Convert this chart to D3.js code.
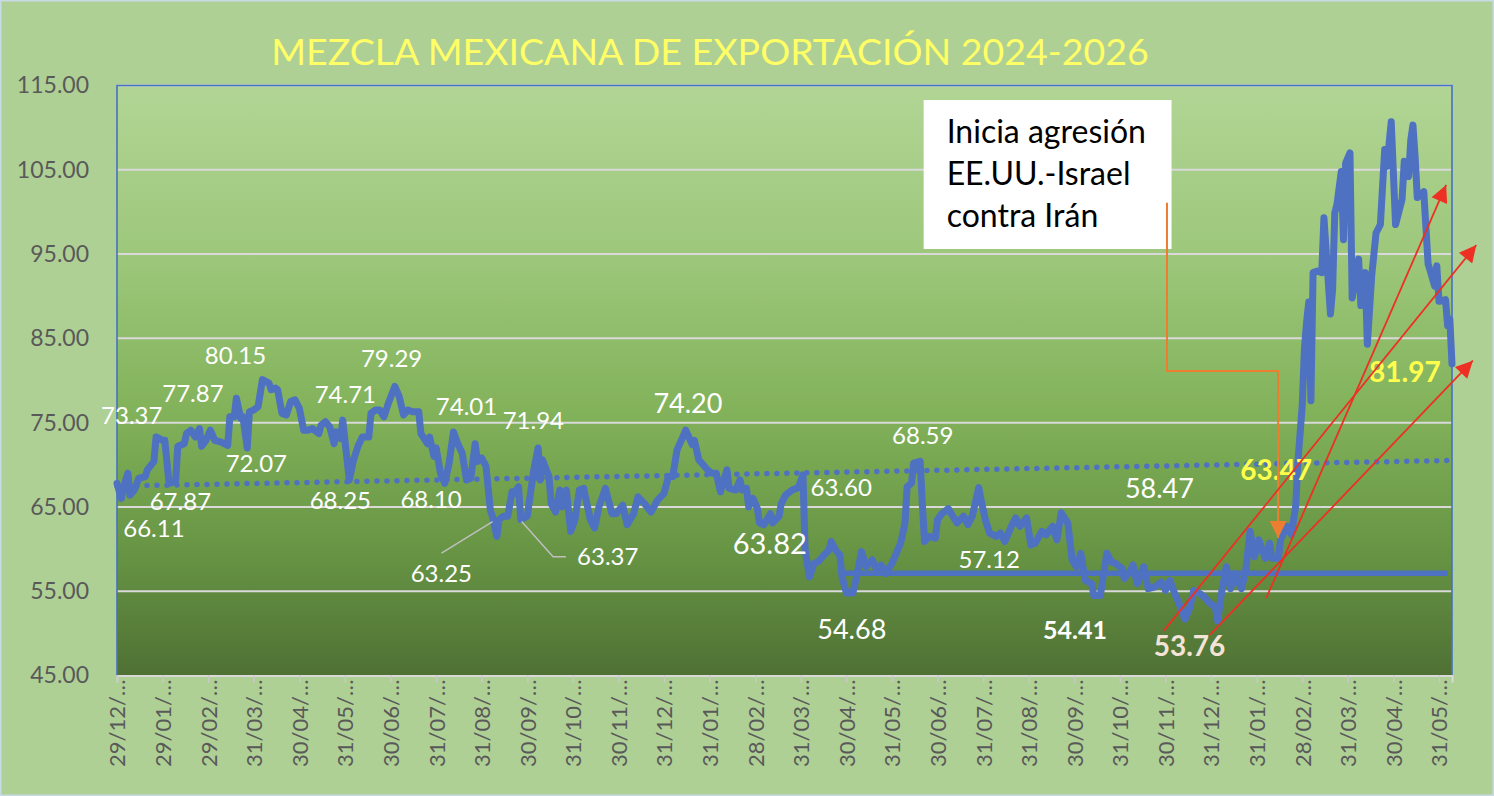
<!DOCTYPE html>
<html>
<head>
<meta charset="utf-8">
<script src="https://cdn.jsdelivr.net/npm/d3@7"></script>
<style>
html, body { margin: 0; padding: 0; background: #afd095; }
svg { display: block; }
text { font-family: Lato, "Open Sans", sans-serif; }
</style>
</head>
<body>
<svg id="chart" width="1494" height="796"></svg>
<script>
// session index (about 21 sessions per month) and price
const mme = [
  [0,67.8],[2,66.0],[4,68.2],[5,69.0],[6,66.4],[8,67.0],[10,68.4],[13,68.6],[14,69.4],[17,70.4],
  [18,73.3],[21,72.9],[22,72.9],[24,67.8],[27,68.0],[28,72.2],[31,72.5],[32,73.7],[34,74.1],[36,73.3],
  [38,74.3],[39,72.2],[41,72.9],[43,74.1],[45,72.9],[48,72.7],[51,72.3],[52,75.7],[54,75.7],[55,77.9],
  [57,75.5],[58,75.7],[60,72.0],[61,76.3],[63,76.5],[65,76.9],[67,80.1],[70,79.7],[71,78.9],[73,79.1],
  [74,78.9],[76,76.1],[78,75.9],[80,77.5],[82,77.7],[84,76.7],[86,74.1],[88,74.1],[90,74.3],[92,73.9],
  [93,73.7],[94,74.7],[96,75.1],[98,74.5],[100,72.5],[101,73.9],[103,73.1],[104,75.3],[105,72.9],[107,68.2],
  [109,70.6],[111,72.2],[113,73.3],[116,73.3],[117,76.1],[119,76.5],[121,76.5],[123,75.7],[125,77.3],[128,79.3],
  [130,78.1],[132,75.9],[134,76.5],[136,76.3],[139,76.3],[140,73.7],[143,72.5],[144,73.3],[146,71.0],[147,72.0],
  [149,69.0],[151,67.8],[153,70.2],[155,73.9],[157,72.5],[159,71.4],[161,68.2],[163,68.4],[165,72.5],[166,70.4],
  [168,70.8],[170,69.8],[172,64.6],[173,63.8],[175,61.5],[176,63.5],[178,63.9],[180,63.9],[182,66.8],[183,66.6],
  [185,67.4],[186,63.5],[189,63.9],[192,69.4],[194,72.0],[195,68.2],[196,70.6],[199,68.6],[200,65.4],[202,64.4],
  [204,67.0],[205,65.0],[207,67.0],[209,62.1],[211,63.5],[213,67.0],[215,67.2],[218,63.5],[220,62.5],[222,65.0],
  [225,67.2],[228,64.2],[230,64.2],[233,65.2],[235,62.9],[238,64.2],[240,66.2],[243,65.4],[246,64.4],[249,65.8],
  [252,66.6],[254,68.6],[256,68.6],[258,71.8],[260,72.9],[262,74.1],[265,72.4],[266,72.9],[268,70.6],[270,70.0],
  [272,69.4],[274,69.0],[276,69.0],[278,66.8],[279,67.8],[281,69.4],[282,67.2],[285,67.0],[287,68.2],[288,67.0],
  [290,67.2],[291,65.0],[293,66.0],[295,64.8],[296,63.1],[298,62.9],[301,64.2],[302,63.1],[305,63.9],[306,65.4],
  [308,66.4],[311,67.0],[313,67.2],[314,67.4],[316,68.8],[317,59.9],[319,56.7],[321,58.3],[323,58.5],[325,59.1],
  [328,59.9],[329,60.9],[331,59.9],[333,59.3],[334,56.7],[336,54.8],[339,54.8],[341,57.1],[343,59.7],[345,57.9],
  [348,58.7],[350,57.5],[352,58.1],[354,57.1],[357,58.3],[359,59.5],[361,60.7],[363,63.1],[364,67.4],[366,67.8],
  [367,70.2],[370,70.4],[371,65.4],[372,60.9],[374,61.5],[377,61.3],[378,63.5],[380,64.2],[383,64.8],[385,63.9],
  [387,63.1],[390,63.9],[392,62.9],[394,63.9],[397,67.3],[398,65.9],[400,63.5],[402,61.9],[405,61.5],[407,61.9],
  [409,60.9],[412,62.7],[414,63.7],[416,62.7],[419,63.7],[421,60.5],[423,60.7],[426,62.1],[428,61.7],[431,62.7],
  [433,61.1],[435,64.3],[438,63.1],[440,58.7],[442,57.9],[444,59.5],[446,56.3],[449,55.9],[450,54.5],[453,54.5],
  [456,59.5],[458,58.5],[460,58.3],[463,57.7],[464,56.5],[467,57.5],[468,58.1],[470,55.9],[473,57.9],[475,55.3],
  [478,55.5],[481,56.1],[483,55.1],[485,56.3],[487,54.9],[489,53.7],[492,51.7],[494,52.9],[496,55.1],[499,54.7],
  [501,54.3],[503,53.7],[506,53.1],[507,51.5],[509,55.1],[511,57.9],[513,55.3],[515,57.1],[518,55.3],[520,57.5],
  [522,62.1],[524,59.1],[526,61.1],[529,58.9],[531,60.7],[532,58.9],[535,58.9],[536,61.1],[539,62.7],[541,61.7],
  [543,65.1],[544,70.3],[546,77.0],[547,83.7],[548,86.9],[549,89.3],[550,77.6],[551,92.8],[553,93.0],[555,92.8],
  [556,99.3],[559,87.9],[560,90.8],[561,99.9],[562,100.9],[564,104.8],[565,96.7],[566,105.8],[568,107.0],[569,89.8],
  [572,94.4],[573,88.9],[575,92.8],[576,84.3],[578,92.4],[580,97.5],[582,98.5],[584,107.4],[585,105.4],[587,110.7],
  [589,98.5],[592,101.5],[593,106.0],[595,104.2],[596,108.5],[597,110.3],[598,106.6],[599,101.7],[602,102.4],[604,93.8],
  [605,93.0],[607,91.2],[608,93.6],[609,89.4],[612,89.6],[613,86.5],[614,87.3],[615,81.97]
];

const avgLine = [[335, 57.12], [613, 57.12]];
const trendLine = [[0, 67.47], [615, 70.52]];

const monthLabels = ["29/12/…","29/01/…","29/02/…","31/03/…","30/04/…","31/05/…","30/06/…","31/07/…",
  "31/08/…","30/09/…","31/10/…","30/11/…","31/12/…","31/01/…","28/02/…","31/03/…","30/04/…","31/05/…",
  "30/06/…","31/07/…","31/08/…","30/09/…","31/10/…","30/11/…","31/12/…","31/01/…","28/02/…","31/03/…",
  "30/04/…","31/05/…"];
const yTicks = [45, 55, 65, 75, 85, 95, 105, 115];

// value labels: text, session, value (baseline), font size, bold, colour
const valueLabels = [
  ["73.37", 6.8, 74.79, 24, false, "#fff"], ["77.87", 35.0, 77.48, 24, false, "#fff"],
  ["80.15", 54.6, 81.91, 24, false, "#fff"], ["72.07", 64.2, 69.18, 24, false, "#fff"],
  ["67.87", 29.2, 64.64, 24, false, "#fff"], ["66.11", 17.0, 61.41, 24, false, "#fff"],
  ["74.71", 105.2, 77.29, 24, false, "#fff"], ["68.25", 102.9, 64.73, 24, false, "#fff"],
  ["79.29", 126.5, 81.56, 24, false, "#fff"], ["74.01", 161.0, 75.90, 24, false, "#fff"],
  ["68.10", 144.7, 64.85, 24, false, "#fff"], ["63.25", 149.4, 56.15, 24, false, "#fff"],
  ["71.94", 191.8, 74.20, 24, false, "#fff"], ["63.37", 226.1, 58.13, 24, false, "#fff"],
  ["74.20", 263.0, 76.17, 27, false, "#fff"], ["63.82", 300.7, 59.43, 29, false, "#fff"],
  ["63.60", 333.6, 66.30, 24, false, "#fff"], ["54.68", 338.5, 49.32, 27, false, "#fff"],
  ["68.59", 371.2, 72.46, 24, false, "#fff"], ["57.12", 401.8, 57.74, 24, false, "#fff"],
  ["58.47", 480.2, 66.03, 27, false, "#fff"], ["54.41", 441.3, 49.32, 25, true, "#fff"],
  ["53.76", 494.1, 47.34, 28, true, "#f4e4d8"], ["63.47", 534.0, 68.20, 28, true, "#ffff4d"],
  ["81.97", 593.3, 79.77, 28, true, "#ffff4d"]
];

const leaders = [
  [[149.5, 59.51], [173.0, 63.26]],
  [[206.8, 59.1], [200.9, 59.1], [186.4, 63.26]]
];
const redArrows = [
  [[482.3, 50.33], [626.2, 96.08]],
  [[503.5, 49.82], [624.6, 82.35]],
  [[529.4, 54.17], [612.3, 103.2]]
];
const eventPath = [[483.7, 101.1], [483.7, 81.13], [534.9, 81.13], [534.9, 61.32]];
const eventBox = {s0: 371.6, s1: 485.8, v0: 113.28, v1: 95.6};
const eventText = ["Inicia agresión", "EE.UU.-Israel", "contra Irán"];

const W = 1494, H = 796;
const plot = {left: 117, right: 1452, top: 85.5, bottom: 675.5};

const svg = d3.select("#chart");
const x = d3.scaleLinear().domain([0, 615]).range([plot.left, plot.right]);
const y = d3.scaleLinear().domain([45, 115]).range([plot.bottom, plot.top]);

const defs = svg.append("defs");
const grad = defs.append("linearGradient").attr("id", "plotGrad")
  .attr("x1", 0).attr("y1", 0).attr("x2", 0).attr("y2", 1);
grad.append("stop").attr("offset", "0%").attr("stop-color", "#b2d595");
grad.append("stop").attr("offset", "30%").attr("stop-color", "#9cc77a");
grad.append("stop").attr("offset", "55%").attr("stop-color", "#82b25a");
grad.append("stop").attr("offset", "78%").attr("stop-color", "#689645");
grad.append("stop").attr("offset", "100%").attr("stop-color", "#4f7134");

function arrowMarker(id, color, w, h) {
  defs.append("marker").attr("id", id)
    .attr("viewBox", "0 0 10 10").attr("refX", 10).attr("refY", 5)
    .attr("markerUnits", "userSpaceOnUse")
    .attr("markerWidth", w).attr("markerHeight", h)
    .attr("orient", "auto")
    .append("path").attr("d", "M0,0 L10,5 L0,10 z").attr("fill", color);
}
arrowMarker("redHead", "#ee2f24", 20, 17);
arrowMarker("orangeHead", "#ed7d31", 17, 18);

// background
svg.append("rect").attr("x", 0.75).attr("y", 0.75).attr("width", W - 1.5).attr("height", H - 1.5)
  .attr("fill", "#afd095").attr("stroke", "#c7dae6").attr("stroke-width", 1.5);

svg.append("rect")
  .attr("x", plot.left).attr("y", plot.top)
  .attr("width", plot.right - plot.left).attr("height", plot.bottom - plot.top)
  .attr("fill", "url(#plotGrad)");

// gridlines
svg.append("g").selectAll("line").data(yTicks.slice(1)).enter().append("line")
  .attr("x1", plot.left).attr("x2", plot.right)
  .attr("y1", d => y(d)).attr("y2", d => y(d))
  .attr("stroke", "#d9d9d9").attr("stroke-width", 2);

// plot border
svg.append("path")
  .attr("d", `M${plot.left},${plot.bottom} V${plot.top} H${plot.right} V${plot.bottom}`)
  .attr("fill", "none").attr("stroke", "#4472c4").attr("stroke-width", 1.6);

// y axis
const yAxis = svg.append("g").attr("transform", `translate(${plot.left},0)`)
  .call(d3.axisLeft(y).tickValues(yTicks).tickSize(0).tickPadding(28).tickFormat(d3.format(".2f")));
yAxis.select(".domain").remove();
yAxis.selectAll("text").attr("font-size", 23).attr("fill", "#595959").attr("font-family", "Lato");

// x axis
const xAxis = svg.append("g").attr("transform", `translate(0,${plot.bottom})`)
  .call(d3.axisBottom(x).tickValues(monthLabels.map((_, i) => i * 21))
    .tickSize(7).tickFormat((d, i) => monthLabels[i]));
xAxis.select(".domain").attr("stroke", "#d9d9d9").attr("stroke-width", 2);
xAxis.selectAll(".tick line").attr("stroke", "#c8c8c8").attr("stroke-width", 1.5);
xAxis.selectAll("text")
  .attr("font-size", 22).attr("fill", "#595959").attr("font-family", "Lato")
  .attr("text-anchor", "end")
  .attr("transform", "rotate(-90)")
  .attr("x", -4).attr("y", 0).attr("dy", "0.36em");

const line = d3.line().x(d => x(d[0])).y(d => y(d[1]));

// price series
svg.append("path").datum(mme).attr("d", line)
  .attr("fill", "none").attr("stroke", "#4f71c1").attr("stroke-width", 7)
  .attr("stroke-linejoin", "round").attr("stroke-linecap", "round");

svg.append("path").datum(avgLine).attr("d", line)
  .attr("fill", "none").attr("stroke", "#4f71c1").attr("stroke-width", 5.5);

svg.append("path").datum(trendLine).attr("d", line)
  .attr("fill", "none").attr("stroke", "#4f71c1").attr("stroke-width", 5.5)
  .attr("stroke-linecap", "round").attr("stroke-dasharray", "0 10");

// leader lines
svg.append("g").selectAll("path").data(leaders).enter().append("path")
  .attr("d", line).attr("fill", "none").attr("stroke", "#bfbfbf").attr("stroke-width", 1.5);

// value labels
svg.append("g").selectAll("text").data(valueLabels).enter().append("text")
  .attr("x", d => x(d[1])).attr("y", d => y(d[2]))
  .attr("text-anchor", "middle")
  .attr("font-size", d => d[3])
  .attr("font-weight", d => d[4] ? "bold" : "normal")
  .attr("fill", d => d[5])
  .text(d => d[0]);

// event box
svg.append("rect")
  .attr("x", x(eventBox.s0)).attr("y", y(eventBox.v0))
  .attr("width", x(eventBox.s1) - x(eventBox.s0)).attr("height", y(eventBox.v1) - y(eventBox.v0))
  .attr("fill", "#ffffff");
svg.append("g").selectAll("text").data(eventText).enter().append("text")
  .attr("x", x(eventBox.s0) + 23)
  .attr("y", (d, i) => y(eventBox.v0) + 43 + i * 42)
  .attr("font-size", 32).attr("fill", "#000")
  .text(d => d);

// connector from event box
svg.append("path").datum(eventPath).attr("d", line)
  .attr("fill", "none").attr("stroke", "#ed7d31").attr("stroke-width", 2)
  .attr("marker-end", "url(#orangeHead)");

// red arrows
svg.append("g").selectAll("path").data(redArrows).enter().append("path")
  .attr("d", line).attr("fill", "none").attr("stroke", "#ee2f24").attr("stroke-width", 1.8)
  .attr("marker-end", "url(#redHead)");

// title
svg.append("text")
  .attr("x", 710).attr("y", 65)
  .attr("text-anchor", "middle")
  .attr("font-size", 37.5).attr("fill", "#ffff66")
  .text("MEZCLA MEXICANA DE EXPORTACIÓN 2024-2026");
</script>
</body>
</html>
